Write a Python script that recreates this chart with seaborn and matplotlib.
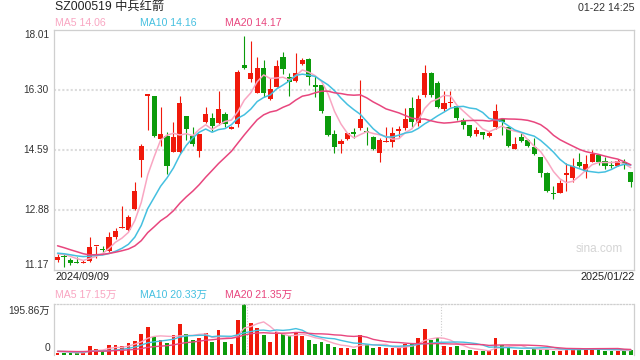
import numpy as np
import pandas as pd
import matplotlib
matplotlib.use("Agg")
import matplotlib.pyplot as plt
import seaborn as sns
from matplotlib import transforms

# ---------------- data ----------------
title = "SZ000519 中兵红箭"
timestamp = "01-22 14:25"
start_label = "2024/09/09"
end_label = "2025/01/22"
watermark = "sina.com"

opens = [11.46, 11.57, 11.46, 11.40, 11.38, 11.43, 11.84, 11.76, 11.72, 12.12,
         12.37, 12.31, 12.90, 14.30, 16.14, 16.13, 14.90, 14.99, 14.54, 14.54,
         15.56, 14.99, 14.57, 15.40, 15.50, 15.36, 15.62, 15.20, 15.33, 17.01,
         16.61, 16.22, 16.92, 16.03, 16.39, 17.25, 16.66, 16.56, 17.03, 17.17,
         16.44, 16.44, 15.56, 15.05, 14.76, 14.90, 15.08, 15.21, 15.12, 14.97,
         14.51, 14.82, 14.83, 15.13, 15.21, 15.78, 15.36, 16.16, 16.79, 16.50,
         15.75, 15.93, 15.84, 15.44, 15.30, 15.05, 15.11, 14.99, 15.24, 15.46,
         15.24, 14.62, 14.95, 14.88, 14.68, 14.38, 13.94, 13.36, 13.37, 13.87,
         13.78, 14.24, 14.00, 14.26, 14.45, 14.29, 14.14, 14.14, 14.26, 13.97]
closes = [11.55, 11.53, 11.36, 11.38, 11.40, 11.82, 11.85, 11.74, 12.12, 12.28,
          12.40, 12.67, 13.42, 14.71, 16.19, 14.99, 15.05, 14.13, 14.97, 15.94,
          15.18, 14.76, 15.05, 15.62, 15.27, 15.76, 15.32, 15.25, 16.82, 16.92,
          16.78, 16.92, 16.21, 16.32, 16.98, 16.89, 16.54, 16.79, 17.16, 16.66,
          16.39, 15.71, 15.02, 14.68, 14.86, 15.07, 15.06, 15.47, 15.10, 14.61,
          14.88, 14.83, 15.07, 15.18, 15.47, 15.40, 16.03, 16.79, 16.16, 15.82,
          15.94, 15.94, 15.49, 15.30, 14.99, 15.16, 15.02, 15.08, 15.70, 15.40,
          14.70, 14.76, 14.85, 14.71, 14.47, 13.94, 13.42, 13.34, 13.66, 13.94,
          14.13, 14.13, 14.19, 14.47, 14.24, 14.14, 14.12, 14.29, 14.19, 13.69]
highs = [11.63, 11.63, 11.52, 11.55, 11.45, 12.10, 11.86, 11.85, 12.24, 12.38,
         12.99, 12.74, 13.67, 14.75, 16.20, 16.13, 15.82, 15.11, 15.40, 16.13,
         15.57, 15.25, 15.05, 15.82, 15.64, 16.28, 15.67, 15.27, 16.87, 17.84,
         17.71, 17.25, 17.16, 16.63, 17.16, 17.39, 16.78, 17.35, 17.20, 17.20,
         16.70, 16.44, 15.56, 15.16, 14.90, 15.08, 15.21, 16.59, 15.25, 15.00,
         14.93, 15.24, 15.24, 15.27, 15.78, 16.11, 16.16, 17.01, 16.82, 16.57,
         16.28, 16.28, 15.84, 15.49, 15.30, 15.25, 15.11, 15.14, 15.90, 15.50,
         15.24, 14.97, 15.08, 14.90, 14.92, 14.40, 13.97, 13.56, 13.73, 14.21,
         14.35, 14.50, 14.45, 14.59, 14.45, 14.40, 14.29, 14.34, 14.32, 13.97]
lows = [11.39, 11.26, 11.31, 11.36, 11.37, 11.39, 11.52, 11.65, 11.69, 12.04,
        12.36, 12.29, 12.88, 13.81, 15.16, 14.95, 14.71, 13.91, 14.52, 14.51,
        14.87, 14.70, 14.40, 15.36, 15.13, 15.30, 15.24, 15.18, 15.25, 16.89,
        16.54, 16.21, 16.11, 16.01, 16.38, 16.76, 16.13, 16.54, 17.01, 16.44,
        16.11, 15.65, 14.99, 14.51, 14.51, 14.87, 14.92, 15.16, 14.73, 14.59,
        14.26, 14.81, 14.68, 14.92, 15.16, 15.25, 15.27, 16.11, 16.11, 15.78,
        15.70, 15.82, 15.44, 15.18, 14.95, 14.99, 14.89, 14.95, 15.18, 15.02,
        14.67, 14.62, 14.83, 14.68, 14.45, 13.83, 13.38, 13.18, 13.36, 13.42,
        13.69, 14.11, 13.78, 14.24, 14.16, 14.05, 14.07, 14.12, 14.04, 13.54]
volumes = [7, 8, 6, 6, 17, 33, 24, 15, 37, 37,
           34, 47, 54, 80, 107, 69, 57, 47, 75, 119,
           79, 57, 67, 83, 50, 96, 50, 41, 135, 195.86,
           124, 105, 76, 50, 89, 80, 72, 88, 72, 59,
           41, 50, 41, 31, 27, 27, 23, 76, 44, 27,
           31, 27, 27, 27, 44, 44, 66, 99, 57, 66,
           33, 31, 33, 19, 19, 14, 14, 14, 66, 40,
           34, 21, 21, 21, 23, 23, 23, 16, 16, 26,
           24, 23, 23, 24, 23, 17, 17, 17, 14, 21]
# closes / volumes of the 19 sessions before the window (only feed the moving averages)
pre_closes = [12.60, 12.55, 12.50, 12.55, 12.50, 11.70, 11.60, 11.55, 11.60, 11.55,
              11.70, 11.65, 11.70, 11.60, 11.70, 11.60, 11.65, 11.70, 11.65]
pre_volumes = [16, 15, 17, 14, 16, 15, 13, 16, 15, 14, 15, 16, 14, 15, 13, 15, 14, 16, 15]

price_ticks = [11.17, 12.88, 14.59, 16.30, 18.01]
vol_top = 195.86
vol_tick_labels = ["195.86万", "0"]
price_ma_labels = ["MA5 14.06", "MA10 14.16", "MA20 14.17"]
vol_ma_labels = ["MA5 17.15万", "MA10 20.33万", "MA20 21.35万"]

# ---------------- style ----------------
RED = "#f0190b"
GREEN = "#0b9b0b"
MA_COLORS = ["#f9a6c2", "#45c0e0", "#e8467e"]
GRID = "#dcdcdc"
BORDER = "#cfcfcf"

sns.set_theme(style="white")
plt.rcParams["font.family"] = ["Liberation Sans", "Noto Sans CJK SC", "DejaVu Sans"]

n = len(closes)
df = pd.DataFrame({"idx": np.arange(n), "open": opens, "close": closes,
                   "high": highs, "low": lows, "vol": volumes})
all_c = pd.Series(pre_closes + closes)
all_v = pd.Series(pre_volumes + volumes)
npre = len(pre_closes)
for w in (5, 10, 20):
    df[f"ma{w}"] = all_c.rolling(w).mean().iloc[npre:].values
    df[f"vma{w}"] = all_v.rolling(w).mean().iloc[npre:].values

up = df["close"] >= df["open"]
colors = np.where(up, RED, GREEN)

W, H = 640, 360
fig = plt.figure(figsize=(6.4, 3.6), dpi=100)
fig.patch.set_facecolor("white")
ax = fig.add_axes([54 / W, 1 - 270 / H, 580 / W, 240 / H])
axv = fig.add_axes([54 / W, 1 - 355 / H, 580 / W, 51 / H])

xlim = (-0.55, n - 0.5)

# ---------------- price panel ----------------
for t in price_ticks[1:-1]:
    ax.axhline(t, color=GRID, lw=1.5, ls=(0, (1, 1)), zorder=0)

ax.vlines(df["idx"], df["low"], df["high"], colors=colors, linewidth=0.8, zorder=2)
body_bottom = np.minimum(df["open"], df["close"])
body_h = np.maximum((df["close"] - df["open"]).abs(), 0.03)
ax.bar(df["idx"], body_h, bottom=body_bottom, width=0.8, color=colors,
       linewidth=0, zorder=3)

for w, c in zip((5, 10, 20), MA_COLORS):
    sns.lineplot(data=df, x="idx", y=f"ma{w}", ax=ax, color=c, linewidth=1.1,
                 legend=False, zorder=4)

ax.set_xlim(*xlim)
ax.set_ylim(price_ticks[0], price_ticks[-1])
ax.set_xticks([])
ax.set_yticks([])
ax.set_xlabel("")
ax.set_ylabel("")
for s in ax.spines.values():
    s.set_color(BORDER)
    s.set_linewidth(0.9)

lab_tr = transforms.blended_transform_factory(ax.transAxes, ax.transData) + \
    transforms.ScaledTranslation(-5 / 100, 0, fig.dpi_scale_trans)
for k, t in enumerate(price_ticks):
    va = "bottom" if k == 0 else ("top" if k == len(price_ticks) - 1 else "center")
    ax.text(0, t, f"{t:.2f}", transform=lab_tr, ha="right", va=va,
            fontsize=7.2, color="#333333")

ax.text(623 / W, 1 - 248.5 / H, watermark, transform=fig.transFigure, ha="right",
        va="center", fontsize=8.5, color="#d4d4d4")

# ---------------- volume panel ----------------
axv.bar(df["idx"], df["vol"], width=0.58, color=colors, linewidth=0, zorder=2)
for w, c in zip((5, 10, 20), MA_COLORS):
    sns.lineplot(data=df, x="idx", y=f"vma{w}", ax=axv, color=c, linewidth=1.0,
                 legend=False, zorder=3)
for fx in (1 / 3, 2 / 3):
    axv.plot([fx, fx], [0, 1], transform=axv.transAxes, color="#cccccc",
             lw=0.8, ls=(0, (1, 1.5)), zorder=1)
axv.set_xlim(*xlim)
axv.set_ylim(0, vol_top)
axv.set_xticks([])
axv.set_yticks([])
axv.set_xlabel("")
axv.set_ylabel("")
for name, s in axv.spines.items():
    s.set_color(BORDER)
    s.set_linewidth(0.9)
axv.spines["top"].set_linestyle((0, (1, 1.5)))
axv.spines["bottom"].set_visible(False)

# ---------------- texts ----------------
fig.text(55 / W, 1 - 8 / H, title, ha="left", va="center", fontsize=8.8, color="#222222")
fig.text(635 / W, 1 - 8 / H, timestamp, ha="right", va="center", fontsize=7.7, color="#333333")

for lbl, c, x in zip(price_ma_labels, MA_COLORS, (55, 140, 225)):
    fig.text(x / W, 1 - 23.5 / H, lbl, ha="left", va="center", fontsize=7.6, color=c)
for lbl, c, x in zip(vol_ma_labels, MA_COLORS, (55, 140, 225)):
    fig.text(x / W, 1 - 295 / H, lbl, ha="left", va="center", fontsize=7.6, color=c)

fig.text(55 / W, 1 - 277.5 / H, start_label, ha="left", va="center", fontsize=7.8, color="#222222")
fig.text(635 / W, 1 - 277.5 / H, end_label, ha="right", va="center", fontsize=7.8, color="#222222")

fig.text(50 / W, 1 - 311 / H, vol_tick_labels[0], ha="right", va="center", fontsize=7.4, color="#333333")
fig.text(50 / W, 1 - 348 / H, vol_tick_labels[1], ha="right", va="center", fontsize=7.4, color="#333333")

fig.savefig("out.png", dpi=100)
